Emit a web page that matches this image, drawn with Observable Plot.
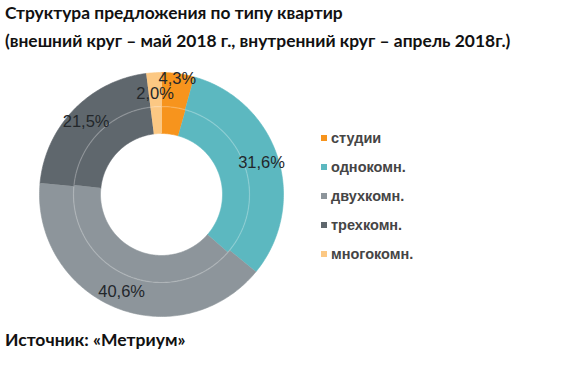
<!DOCTYPE html>
<html>
<head>
<meta charset="utf-8">
<script src="https://cdn.jsdelivr.net/npm/d3@7"></script>
<script src="https://cdn.jsdelivr.net/npm/@observablehq/plot@0.6"></script>
<style>
  html, body { margin: 0; padding: 0; background: #fff; width: 582px; height: 367px; overflow: hidden; position: relative; }
  #title { position: absolute; left: 5px; top: -1px; font-family: Lato, "Open Sans", sans-serif; font-weight: 700; font-size: 17.4px; line-height: 28px; color: #111; white-space: nowrap; }
  #chart { position: absolute; left: 0; top: 55px; }
  #legend { position: absolute; left: 321px; top: 123px; font-family: "Liberation Sans", Arial, sans-serif; font-weight: 700; font-size: 14.5px; color: #454545; }
  #legend .row { height: 29px; display: flex; align-items: center; }
  #legend .sw { width: 6px; height: 6px; margin-right: 4px; }
  #caption { position: absolute; left: 5px; top: 329px; font-family: Lato, "Open Sans", sans-serif; font-weight: 700; font-size: 17.5px; color: #111; }
</style>
</head>
<body>
<div id="title">Структура предложения по типу квартир<br>(внешний круг – май 2018 г., внутренний круг – апрель 2018г.)</div>
<div id="chart"></div>
<div id="legend"></div>
<div id="caption">Источник: «Метриум»</div>
<script>
const categories = ["студии", "однокомн.", "двухкомн.", "трехкомн.", "многокомн."];
const may2018 = [4.3, 31.6, 40.6, 21.5, 2.0];      // outer ring
const apr2018 = [4.4, 32.0, 40.3, 21.3, 2.0];      // inner ring (estimated)
const labels = ["4,3%", "31,6%", "40,6%", "21,5%", "2,0%"];
const colors = ["#F7941D", "#5CB8C0", "#8D959B", "#5F676D", "#FCC883"];

const W = 582, H = 270;
const cx = 161, cy = 139;
const rHole = 61, rMid = 88, rOuter = 122;

function ringPolys(values, r0, r1, ring) {
  const pts = [];
  let acc = 0;
  values.forEach((v, i) => {
    const a0 = acc / 100 * 2 * Math.PI;
    acc += v;
    const a1 = acc / 100 * 2 * Math.PI;
    const n = Math.max(2, Math.ceil((a1 - a0) / (Math.PI / 180)));
    const key = ring + i;
    for (let k = 0; k <= n; k++) {
      const a = a0 + (a1 - a0) * k / n;
      pts.push({key, cat: categories[i], x: r1 * Math.sin(a), y: r1 * Math.cos(a)});
    }
    for (let k = n; k >= 0; k--) {
      const a = a0 + (a1 - a0) * k / n;
      pts.push({key, cat: categories[i], x: r0 * Math.sin(a), y: r0 * Math.cos(a)});
    }
  });
  return pts;
}

const slices = [
  ...ringPolys(apr2018, rHole, rMid, "in"),
  ...ringPolys(may2018, rMid, rOuter, "out")
];

const sep = d3.range(0, 361, 2).map(d => ({x: rMid * Math.sin(d * Math.PI / 180), y: rMid * Math.cos(d * Math.PI / 180)}));

let acc = 0;
const labelData = may2018.map((v, i) => {
  const mid = (acc + v / 2) / 100 * 2 * Math.PI;
  acc += v;
  const r = v < 3 ? 101 : v < 5 ? 117 : 105;
  return {text: labels[i], x: r * Math.sin(mid), y: r * Math.cos(mid)};
});

const plot = Plot.plot({
  width: W, height: H,
  margin: 0,
  x: {domain: [-cx, W - cx], axis: null},
  y: {domain: [cy - H, cy], axis: null},
  color: {domain: categories, range: colors},
  marks: [
    Plot.line(slices, {x: "x", y: "y", z: "key", fill: "cat", stroke: "cat", strokeWidth: 0.6, curve: "linear"}),
    Plot.line(sep, {x: "x", y: "y", stroke: "#ffffff", strokeOpacity: 0.25, strokeWidth: 1.2}),
    Plot.text(labelData, {x: "x", y: "y", text: "text", fontSize: 16.5, fill: "#23272b", fontFamily: "Liberation Sans, Arial, sans-serif"})
  ]
});
document.getElementById("chart").appendChild(plot);

const color = plot.scale("color");
const legend = document.getElementById("legend");
categories.forEach(c => {
  const row = document.createElement("div");
  row.className = "row";
  const sw = document.createElement("div");
  sw.className = "sw";
  sw.style.background = color.apply(c);
  const t = document.createElement("span");
  t.textContent = c;
  row.appendChild(sw); row.appendChild(t);
  legend.appendChild(row);
});
</script>
</body>
</html>
